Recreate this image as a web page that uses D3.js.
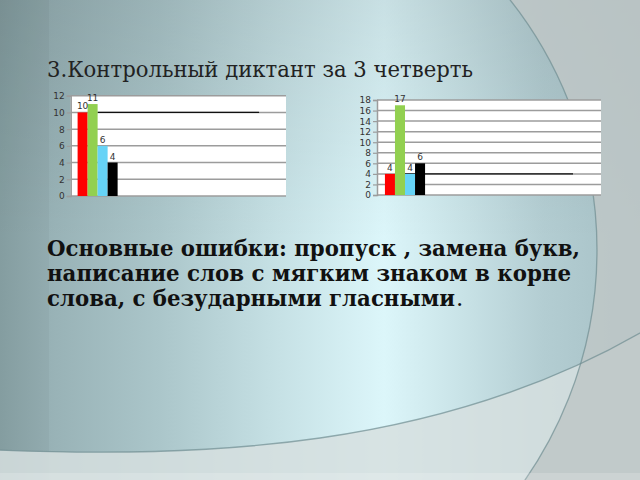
<!DOCTYPE html>
<html>
<head>
  <meta charset="UTF-8">
  <title>Контрольный диктант за 3 четверть</title>
  <script src="https://d3js.org/d3.v7.min.js"></script>
  <style>
    body { margin: 0; background: #ffffff; }
    svg { display: block; }
    .tick-label, .bar-label { font: 9px "DejaVu Sans", sans-serif; fill: #333; }
    .title { font-family: "DejaVu Serif", serif; font-size: 22px; fill: #222; }
    .note { font-family: "DejaVu Serif Condensed", "DejaVu Serif", serif; font-stretch: condensed; font-size: 23px; font-weight: bold; fill: #111; }
    .dot { font-family: "DejaVu Serif", serif; font-size: 23px; fill: #111; }
  </style>
</head>
<body>
<svg id="slide" width="640" height="480"></svg>
<script>
  // данные
  const categories = ["1", "2", "3", "4"];
  const seriesNames = ["s1", "s2", "s3", "s4"];

  // первая диаграмма: столбцы (только в первой категории) и линия
  const chart1Bars = [10, 11, 6, 4];
  const chart1Line = [10, 10, 10, 10];
  const chart1Ticks = [0, 2, 4, 6, 8, 10, 12];

  // вторая диаграмма
  const chart2Bars = [4, 17, 4, 6];
  const chart2Line = [4, 4, 4, 4];
  const chart2Ticks = [0, 2, 4, 6, 8, 10, 12, 14, 16, 18];

  const titleText = "3.Контрольный диктант за 3 четверть";
  const noteLines = [
    "Основные ошибки: пропуск , замена букв,",
    "написание слов с мягким знаком в корне",
    "слова, с безударными гласными"
  ];

  const barColors = ["#ff0000", "#92d050", "#66d3f6", "#000000"];

  const svg = d3.select("#slide");
  const defs = svg.append("defs");

  // ---- фон слайда ----
  const hGrad = defs.append("linearGradient").attr("id", "hgrad")
      .attr("x1", 0).attr("x2", 1).attr("y1", 0).attr("y2", 0);
  [[0, "#89a3a6"], [0.08, "#98b2b6"], [0.25, "#abc6ca"], [0.42, "#c4dfe3"],
   [0.6, "#dcf6fa"], [0.72, "#c9e3e7"], [0.85, "#b3cdd2"], [1, "#a6c0c5"]]
    .forEach(s => hGrad.append("stop").attr("offset", s[0]).attr("stop-color", s[1]));

  const vGrad = defs.append("linearGradient").attr("id", "vgrad")
      .attr("x1", 0).attr("x2", 0).attr("y1", 0).attr("y2", 1);
  vGrad.append("stop").attr("offset", 0).attr("stop-color", "#000").attr("stop-opacity", 0.09);
  vGrad.append("stop").attr("offset", 0.5).attr("stop-color", "#000").attr("stop-opacity", 0);

  svg.append("rect").attr("width", 640).attr("height", 480).attr("fill", "url(#hgrad)");
  svg.append("rect").attr("width", 640).attr("height", 480).attr("fill", "url(#vgrad)");
  svg.append("rect").attr("width", 49).attr("height", 480).attr("fill", "#000").attr("opacity", 0.03);

  // нижняя дуга
  const bottom = d3.path();
  bottom.moveTo(-5, 450);
  bottom.bezierCurveTo(200, 458, 440, 450, 645, 330);
  const bottomFill = d3.path();
  bottomFill.moveTo(-5, 450);
  bottomFill.bezierCurveTo(200, 458, 440, 450, 645, 330);
  bottomFill.lineTo(645, 485);
  bottomFill.lineTo(-5, 485);
  bottomFill.closePath();
  svg.append("path").attr("d", bottomFill.toString()).attr("fill", "#d6dfdf").attr("opacity", 0.85);

  // правая дуга (окружность), снаружи серое
  const cx = 194, cy = 250, r = 403;
  const outside = d3.path();
  outside.rect(-5, -5, 650, 490);
  outside.moveTo(cx + r, cy);
  outside.arc(cx, cy, r, 0, 2 * Math.PI);
  svg.append("path").attr("d", outside.toString()).attr("fill-rule", "evenodd")
      .attr("fill", "#bec7c7").attr("opacity", 0.85);

  svg.append("path").attr("d", bottom.toString()).attr("fill", "none")
      .attr("stroke", "#6f8d92").attr("stroke-width", 1.3).attr("opacity", 0.7);
  svg.append("circle").attr("cx", cx).attr("cy", cy).attr("r", r).attr("fill", "none")
      .attr("stroke", "#6f8d92").attr("stroke-width", 1.3).attr("opacity", 0.7);
  svg.append("rect").attr("y", 473).attr("width", 640).attr("height", 7)
      .attr("fill", "#fff").attr("opacity", 0.18);

  // ---- заголовок ----
  svg.append("text").attr("class", "title").attr("x", 47).attr("y", 77)
      .attr("textLength", 426).attr("lengthAdjust", "spacingAndGlyphs")
      .text(titleText);

  // ---- диаграммы ----
  function drawChart(box, bars, line, ticks, outerPad) {
    const g = svg.append("g");
    const x0 = d3.scaleBand().domain(categories).range([box.left, box.right]);
    const x1 = d3.scaleBand().domain(seriesNames).range([0, x0.bandwidth()]).paddingOuter(outerPad);
    const y = d3.scaleLinear().domain([0, d3.max(ticks)]).range([box.bottom, box.top]);

    g.append("rect").attr("x", box.left).attr("y", box.top)
        .attr("width", box.right - box.left).attr("height", box.bottom - box.top)
        .attr("fill", "#fff");

    g.append("g").selectAll("line").data(ticks).join("line")
        .attr("x1", box.left).attr("x2", box.right)
        .attr("y1", d => y(d)).attr("y2", d => y(d))
        .attr("stroke", "#9c9c9c").attr("stroke-width", 1.5);

    const axis = g.append("g").attr("transform", `translate(${box.left},0)`)
        .call(d3.axisLeft(y).tickValues(ticks).tickSize(4).tickPadding(2));
    axis.select(".domain").attr("stroke", "#9c9c9c").attr("stroke-width", 1.5);
    axis.selectAll(".tick line").attr("stroke", "#9c9c9c").attr("stroke-width", 1.2);
    axis.selectAll(".tick text").attr("class", "tick-label").attr("font-size", null).attr("font-family", null).attr("fill", null);

    // линия под столбцами
    g.append("path").datum(line)
        .attr("d", d3.line().x((d, i) => x0(categories[i]) + x0.bandwidth() / 2).y(d => y(d)))
        .attr("fill", "none").attr("stroke", "#111").attr("stroke-width", 1.3);

    const cat = categories[0];
    g.append("g").selectAll("rect").data(bars).join("rect")
        .attr("x", (d, i) => x0(cat) + x1(seriesNames[i]))
        .attr("width", x1.bandwidth())
        .attr("y", d => y(d))
        .attr("height", d => y(0) - y(d))
        .attr("fill", (d, i) => barColors[i]);

    g.append("g").selectAll("text").data(bars).join("text")
        .attr("class", "bar-label")
        .attr("text-anchor", "middle")
        .attr("x", (d, i) => x0(cat) + x1(seriesNames[i]) + x1.bandwidth() / 2)
        .attr("y", d => y(d) - 3)
        .text(d => d);
  }

  drawChart({left: 70.7, right: 286, top: 95.7, bottom: 196}, chart1Bars, chart1Line, chart1Ticks, 0.69);
  drawChart({left: 377, right: 601, top: 100, bottom: 195}, chart2Bars, chart2Line, chart2Ticks, 0.79);

  // ---- текст ----
  const noteWidths = [533, 524, 408];
  const noteY = [256, 281, 306];
  noteLines.forEach((t, i) => {
    svg.append("text").attr("class", "note").attr("x", 47).attr("y", noteY[i])
        .attr("textLength", noteWidths[i]).attr("lengthAdjust", "spacingAndGlyphs")
        .text(t);
  });
  svg.append("text").attr("class", "dot").attr("x", 47 + noteWidths[2] + 1).attr("y", noteY[2]).text(".");
</script>
</body>
</html>
